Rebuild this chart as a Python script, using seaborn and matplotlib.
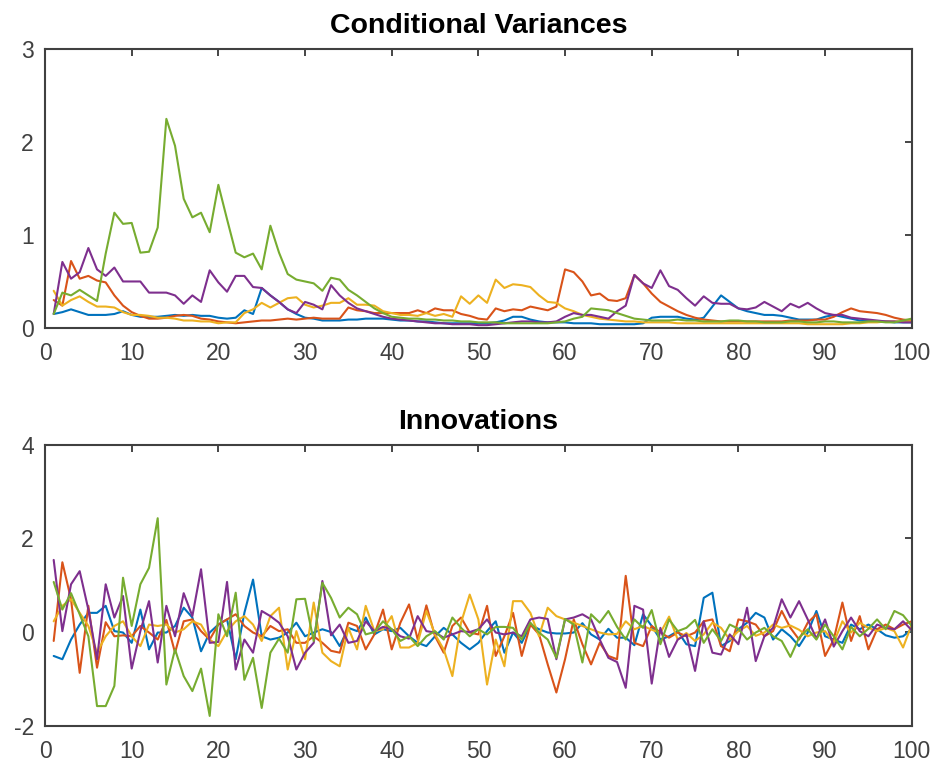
import numpy as np
import pandas as pd
import matplotlib
matplotlib.use('Agg')
import matplotlib.pyplot as plt
import seaborn as sns

sns.set_style('white')
plt.rcParams['font.family'] = ['Liberation Sans', 'DejaVu Sans']
plt.rcParams['axes.unicode_minus'] = False

# ---- data: 5 series, t = 1..100 ----
t = np.arange(1, 101)
series_names = ['Series 1', 'Series 2', 'Series 3', 'Series 4', 'Series 5']
colors = ['#0072BD', '#D95319', '#EDB120', '#7E2F8E', '#77AC30']

# Conditional variances
cv_blue = [0.15, 0.17, 0.20, 0.17, 0.14, 0.14, 0.14, 0.15, 0.18, 0.14,
           0.12, 0.12, 0.12, 0.13, 0.14, 0.13, 0.14, 0.13, 0.13, 0.11,
           0.10, 0.11, 0.19, 0.15, 0.43, 0.35, 0.28, 0.20, 0.15, 0.11,
           0.10, 0.08, 0.08, 0.08, 0.09, 0.09, 0.10, 0.10, 0.10, 0.09,
           0.08, 0.08, 0.07, 0.07, 0.06, 0.05, 0.05, 0.05, 0.05, 0.05,
           0.05, 0.06, 0.08, 0.12, 0.12, 0.09, 0.07, 0.06, 0.06, 0.06,
           0.05, 0.05, 0.05, 0.04, 0.04, 0.04, 0.04, 0.04, 0.05, 0.11,
           0.12, 0.12, 0.12, 0.10, 0.09, 0.11, 0.23, 0.35, 0.28, 0.21,
           0.18, 0.16, 0.14, 0.14, 0.13, 0.11, 0.09, 0.09, 0.09, 0.12,
           0.14, 0.12, 0.10, 0.08, 0.08, 0.07, 0.07, 0.06, 0.06, 0.06]
cv_orange = [0.30, 0.24, 0.72, 0.53, 0.56, 0.51, 0.49, 0.35, 0.24, 0.17,
             0.13, 0.10, 0.10, 0.11, 0.13, 0.14, 0.13, 0.10, 0.09, 0.07,
             0.06, 0.05, 0.06, 0.07, 0.08, 0.08, 0.09, 0.10, 0.09, 0.10,
             0.11, 0.10, 0.10, 0.10, 0.22, 0.19, 0.18, 0.16, 0.16, 0.16,
             0.16, 0.16, 0.19, 0.16, 0.21, 0.19, 0.19, 0.15, 0.13, 0.10,
             0.09, 0.21, 0.18, 0.20, 0.19, 0.23, 0.21, 0.19, 0.23, 0.63,
             0.60, 0.50, 0.35, 0.37, 0.30, 0.29, 0.32, 0.57, 0.48, 0.37,
             0.28, 0.23, 0.18, 0.14, 0.11, 0.09, 0.08, 0.07, 0.07, 0.07,
             0.07, 0.07, 0.07, 0.07, 0.07, 0.08, 0.08, 0.08, 0.09, 0.09,
             0.12, 0.17, 0.21, 0.18, 0.17, 0.16, 0.14, 0.11, 0.09, 0.08]
cv_yellow = [0.40, 0.24, 0.30, 0.34, 0.28, 0.23, 0.23, 0.22, 0.17, 0.14,
             0.14, 0.13, 0.11, 0.11, 0.10, 0.08, 0.08, 0.07, 0.07, 0.05,
             0.06, 0.06, 0.16, 0.20, 0.27, 0.22, 0.27, 0.32, 0.33, 0.25,
             0.22, 0.24, 0.27, 0.27, 0.32, 0.25, 0.25, 0.24, 0.18, 0.16,
             0.14, 0.14, 0.13, 0.16, 0.13, 0.15, 0.12, 0.34, 0.26, 0.35,
             0.27, 0.52, 0.43, 0.47, 0.46, 0.44, 0.35, 0.28, 0.27, 0.21,
             0.18, 0.14, 0.12, 0.10, 0.09, 0.08, 0.07, 0.07, 0.06, 0.06,
             0.06, 0.06, 0.05, 0.05, 0.05, 0.05, 0.05, 0.05, 0.05, 0.05,
             0.05, 0.05, 0.05, 0.05, 0.05, 0.05, 0.05, 0.04, 0.04, 0.04,
             0.04, 0.04, 0.05, 0.05, 0.06, 0.06, 0.07, 0.07, 0.07, 0.07]
cv_purple = [0.15, 0.71, 0.53, 0.60, 0.86, 0.63, 0.56, 0.65, 0.50, 0.50,
             0.50, 0.38, 0.38, 0.38, 0.35, 0.26, 0.35, 0.28, 0.62, 0.49,
             0.39, 0.56, 0.56, 0.44, 0.43, 0.35, 0.28, 0.20, 0.16, 0.28,
             0.25, 0.20, 0.46, 0.35, 0.27, 0.21, 0.18, 0.15, 0.12, 0.10,
             0.09, 0.08, 0.07, 0.06, 0.05, 0.05, 0.04, 0.04, 0.04, 0.03,
             0.03, 0.04, 0.05, 0.06, 0.07, 0.07, 0.06, 0.06, 0.07, 0.12,
             0.16, 0.14, 0.14, 0.12, 0.10, 0.18, 0.24, 0.57, 0.48, 0.43,
             0.62, 0.45, 0.41, 0.32, 0.24, 0.34, 0.27, 0.26, 0.26, 0.21,
             0.20, 0.22, 0.28, 0.23, 0.18, 0.26, 0.22, 0.27, 0.21, 0.16,
             0.14, 0.14, 0.11, 0.10, 0.09, 0.08, 0.07, 0.07, 0.06, 0.06]
cv_green = [0.15, 0.38, 0.35, 0.41, 0.35, 0.29, 0.80, 1.24, 1.12, 1.13,
            0.81, 0.82, 1.08, 2.25, 1.96, 1.39, 1.19, 1.24, 1.03, 1.54,
            1.17, 0.81, 0.76, 0.80, 0.63, 1.10, 0.81, 0.58, 0.52, 0.50,
            0.48, 0.40, 0.54, 0.52, 0.41, 0.35, 0.28, 0.21, 0.16, 0.12,
            0.11, 0.10, 0.10, 0.09, 0.09, 0.08, 0.08, 0.07, 0.07, 0.06,
            0.06, 0.06, 0.05, 0.05, 0.05, 0.05, 0.05, 0.05, 0.06, 0.07,
            0.10, 0.12, 0.21, 0.20, 0.19, 0.16, 0.13, 0.10, 0.09, 0.08,
            0.08, 0.08, 0.09, 0.08, 0.08, 0.07, 0.07, 0.07, 0.08, 0.08,
            0.07, 0.07, 0.06, 0.06, 0.06, 0.07, 0.07, 0.06, 0.06, 0.07,
            0.07, 0.06, 0.06, 0.06, 0.07, 0.07, 0.06, 0.06, 0.08, 0.10]

# Innovations
inn_blue = [-0.51, -0.58, -0.16, 0.16, 0.41, 0.41, 0.56, 0.02, -0.01, -0.23,
            0.48, -0.37, -0.01, -0.01, 0.13, 0.52, 0.31, -0.41, -0.01, 0.16,
            0.27, -0.58, 0.41, 1.12, -0.09, -0.16, -0.12, -0.01, 0.20, -0.09,
            -0.01, 0.06, 0.00, -0.30, 0.09, 0.02, 0.31, -0.05, 0.06, 0.02,
            0.09, -0.09, -0.23, -0.30, -0.09, 0.09, -0.05, -0.23, -0.37, -0.23,
            0.02, 0.23, -0.44, -0.01, -0.23, 0.16, 0.06, -0.01, -0.03, -0.03,
            -0.01, 0.19, -0.05, -0.16, 0.07, -0.12, -0.12, -0.28, 0.38, 0.13,
            -0.16, -0.09, 0.02, -0.26, -0.30, 0.73, 0.84, -0.30, -0.19, 0.06,
            0.20, 0.41, 0.31, -0.16, 0.06, -0.09, -0.30, -0.01, 0.45, -0.09,
            -0.16, -0.23, 0.16, 0.06, 0.16, 0.06, -0.07, -0.12, -0.09, 0.06]
inn_orange = [-0.19, 1.49, 0.70, -0.87, 0.56, -0.76, 0.21, -0.09, -0.07, -0.09,
              0.13, -0.01, -0.16, 0.26, -0.44, 0.23, 0.27, 0.02, -0.16, 0.16,
              0.27, 0.38, 0.13, -0.01, -0.09, 0.13, 0.02, 0.06, -0.23, -0.23,
              -0.09, -0.23, -0.40, -0.44, 0.20, 0.13, -0.37, -0.05, 0.48, -0.37,
              0.20, 0.59, -0.16, 0.57, -0.09, -0.44, 0.13, 0.31, -0.01, -0.05,
              0.56, -0.51, -0.09, 0.41, -0.51, 0.16, -0.05, -0.69, -1.29, -0.58,
              0.27, -0.26, -0.69, -0.23, -0.51, -0.58, 1.20, -0.23, -0.30, 0.13,
              -0.01, -0.12, -0.01, -0.09, -0.01, 0.23, 0.27, -0.30, -0.41, 0.27,
              0.23, 0.16, -0.09, 0.02, 0.45, 0.09, -0.16, 0.20, 0.38, -0.51,
              -0.16, 0.63, -0.19, 0.34, -0.37, 0.06, 0.16, 0.06, 0.16, 0.23]
inn_yellow = [0.23, 0.56, 0.70, 0.41, 0.13, -0.44, -0.09, 0.13, 0.23, -0.09,
              -0.30, 0.16, 0.13, 0.16, -0.01, 0.06, 0.23, 0.16, -0.16, -0.30,
              0.02, 0.23, 0.34, 0.16, -0.19, 0.34, 0.52, -0.80, 0.02, -0.58,
              0.63, -0.44, -0.62, -0.73, 0.09, -0.37, 0.56, 0.02, 0.06, 0.34,
              -0.33, -0.33, -0.23, 0.45, -0.05, -0.37, -0.94, 0.20, 0.80, 0.27,
              -1.12, -0.16, -0.73, 0.66, 0.66, 0.41, -0.09, 0.52, 0.34, 0.27,
              0.20, 0.13, 0.06, -0.01, -0.05, -0.04, 0.23, 0.06, 0.13, 0.05,
              -0.02, 0.33, -0.16, -0.02, -0.19, -0.05, 0.20, 0.09, -0.16, 0.02,
              0.13, -0.08, -0.01, 0.16, 0.09, 0.14, 0.05, -0.09, -0.01, 0.02,
              -0.23, 0.23, -0.01, 0.20, 0.09, 0.02, 0.09, 0.02, -0.33, 0.16]
inn_purple = [1.54, 0.02, 1.02, 1.30, 0.48, -0.58, 1.02, 0.31, 0.77, -0.78,
              0.02, 0.66, -0.65, 0.56, -0.09, 0.83, 0.34, 1.34, -0.23, -0.21,
              1.07, -0.80, -0.16, -0.44, 0.45, 0.34, 0.20, -0.09, -0.80, -0.44,
              -0.23, 1.09, -0.07, 0.16, -0.23, -0.19, 0.23, 0.02, 0.11, 0.06,
              -0.09, -0.14, 0.34, 0.02, -0.01, -0.12, -0.05, 0.02, 0.00, 0.06,
              0.27, -0.01, -0.05, -0.01, -0.09, 0.27, 0.31, 0.28, -0.58, 0.27,
              0.31, 0.38, 0.27, -0.16, -0.55, -0.64, -1.19, 0.56, 0.48, -1.10,
              0.09, -0.53, -0.16, -0.05, -0.83, 0.23, -0.44, -0.48, -0.05, -0.26,
              0.52, -0.62, -0.09, 0.09, 0.70, 0.31, 0.66, 0.27, -0.14, 0.27,
              -0.31, 0.02, 0.31, 0.02, -0.09, 0.16, 0.09, 0.06, 0.23, 0.04]
inn_green = [1.07, 0.48, 0.83, 0.38, -0.09, -1.58, -1.58, -1.15, 1.16, 0.13,
             1.02, 1.37, 2.43, -1.12, -0.37, -0.94, -1.26, -0.78, -1.79, 0.38,
             -0.09, 0.84, -1.02, -0.55, -1.62, -0.44, -0.14, -0.44, 0.70, 0.71,
             -0.19, 1.05, 0.73, 0.31, 0.52, 0.38, -0.05, 0.00, 0.23, 0.06,
             -0.19, -0.09, -0.30, -0.09, 0.02, -0.16, 0.31, 0.09, -0.09, 0.06,
             -0.05, 0.11, 0.11, 0.09, -0.16, 0.20, -0.01, -0.16, -0.55, 0.28,
             0.16, -0.65, 0.38, 0.20, 0.45, 0.11, -0.16, 0.27, 0.09, 0.47,
             -0.26, 0.27, 0.02, 0.09, 0.26, -0.23, 0.06, -0.19, 0.16, 0.07,
             -0.16, -0.01, 0.09, -0.09, -0.19, -0.53, -0.12, 0.06, -0.16, 0.16,
             -0.09, -0.37, 0.11, -0.09, 0.07, 0.27, 0.06, 0.45, 0.36, 0.13]


def long_form(cols):
    frames = [pd.DataFrame({'t': t, 'value': v, 'series': n})
              for n, v in zip(series_names, cols)]
    return pd.concat(frames, ignore_index=True)


df_cv = long_form([cv_blue, cv_orange, cv_yellow, cv_purple, cv_green])
df_inn = long_form([inn_blue, inn_orange, inn_yellow, inn_purple, inn_green])

AX_COLOR = '#262626'

fig = plt.figure(figsize=(9.38, 7.68), dpi=100)
ax1 = fig.add_axes([0.048, 0.573, 0.924, 0.363])
ax2 = fig.add_axes([0.048, 0.055, 0.924, 0.366])

panels = [
    (ax1, df_cv, 'Conditional Variances', (0, 3), [0, 1, 2, 3]),
    (ax2, df_inn, 'Innovations', (-2, 4), [-2, 0, 2, 4]),
]
for ax, d, title, ylim, yticks in panels:
    sns.lineplot(data=d, x='t', y='value', hue='series', hue_order=series_names,
                 palette=colors, linewidth=1.5, legend=False, ax=ax)
    ax.set_xlim(0, 100)
    ax.set_ylim(*ylim)
    ax.set_xticks(np.arange(0, 101, 10))
    ax.set_yticks(yticks)
    ax.set_xlabel('')
    ax.set_ylabel('')
    ax.set_title(title, fontsize=20.5, fontweight='bold', color='black', pad=11.5)
    ax.tick_params(direction='in', top=True, right=True, length=5, width=1.2,
                   colors=AX_COLOR, labelcolor='#404040', labelsize=16.5)
    ax.tick_params(axis='x', pad=10)
    ax.tick_params(axis='y', pad=8)
    for s in ax.spines.values():
        s.set_color('#404040')
        s.set_linewidth(1.5)

fig.savefig('out.png', dpi=100)
